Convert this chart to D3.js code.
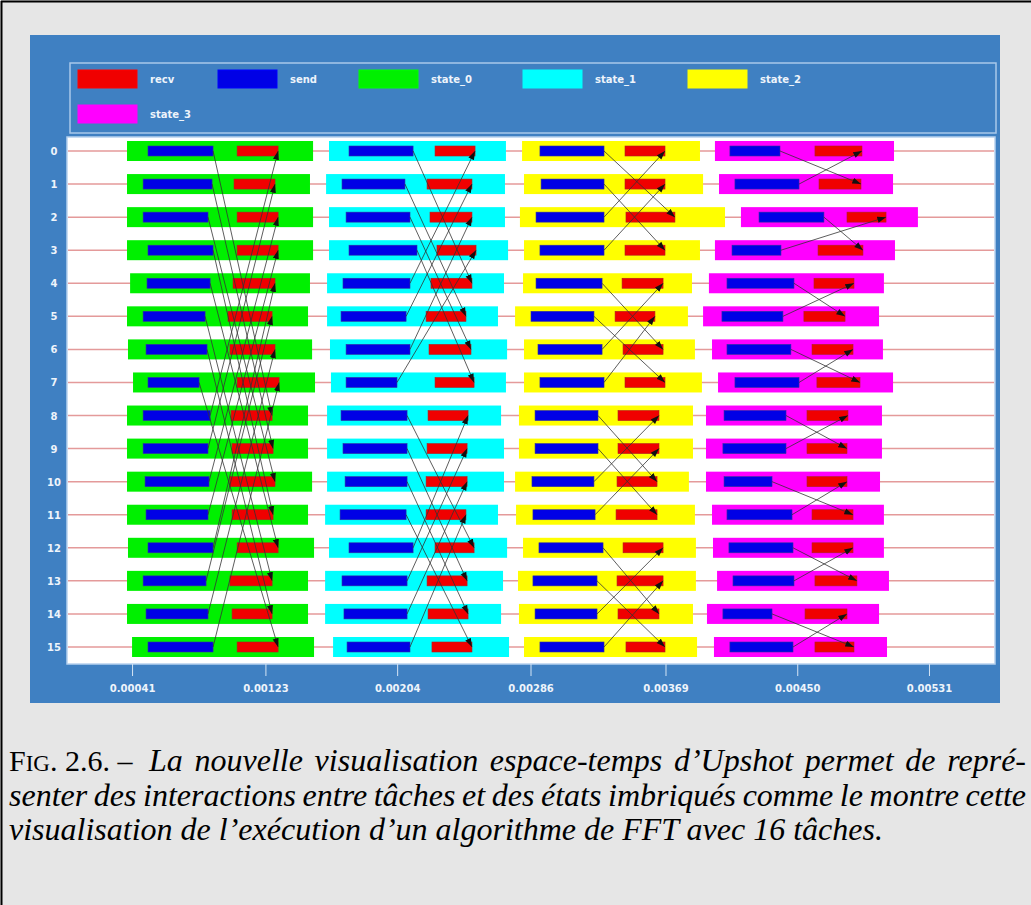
<!DOCTYPE html>
<html><head><meta charset="utf-8">
<script src="https://cdn.jsdelivr.net/npm/d3@7"></script>
<style>body{margin:0;background:#e6e6e6;overflow:hidden}svg{display:block}</style>
</head><body>
<svg id="c" width="1031" height="905"></svg>
<script>
// ---------- data (times in microseconds) ----------
const tasks = [0,1,2,3,4,5,6,7,8,9,10,11,12,13,14,15];
const legendLabels = ["recv","send","state_0","state_1","state_2","state_3"];
const tickValues = [410,1230,2040,2860,3690,4500,5310];
const tickLabels = ["0.00041","0.00123","0.00204","0.00286","0.00369","0.00450","0.00531"];
const xDomain = [10,5716];

const state0Start = [379,379,379,379,398,379,385,416,379,379,379,379,385,379,379,410];
const state0End   = [1523,1504,1523,1523,1504,1492,1517,1535,1492,1492,1517,1492,1529,1492,1492,1529];
const send0Start  = [508,478,478,508,502,478,496,508,478,478,490,496,508,478,496,508];
const send0End    = [908,902,877,908,890,859,871,822,890,877,883,877,908,865,877,908];
const recv0Start  = [1056,1037,1056,1056,1031,1000,1012,1056,1019,1025,1012,1025,1056,1012,1025,1056];
const recv0End    = [1308,1289,1308,1308,1289,1271,1289,1314,1271,1277,1289,1277,1308,1271,1271,1308];

const state1Start = [1621,1603,1621,1621,1609,1609,1627,1633,1609,1609,1609,1597,1621,1597,1597,1646];
const state1End   = [2709,2703,2703,2722,2697,2660,2716,2709,2679,2697,2697,2660,2716,2691,2679,2728];
const send1Start  = [1744,1701,1726,1744,1707,1695,1726,1726,1695,1707,1720,1689,1744,1701,1713,1732];
const send1End    = [2138,2088,2119,2162,2119,2095,2119,2039,2101,2101,2101,2095,2138,2101,2101,2119];
const recv1Start  = [2273,2224,2242,2285,2248,2218,2236,2273,2230,2224,2218,2218,2273,2224,2230,2254];
const recv1End    = [2519,2500,2500,2525,2500,2463,2494,2513,2476,2470,2470,2463,2513,2470,2476,2500];

const state2Start = [2808,2820,2795,2820,2814,2765,2820,2820,2789,2789,2765,2771,2814,2783,2789,2820];
const state2End   = [3902,3921,4056,3902,3853,3828,3871,3914,3859,3859,3834,3871,3877,3877,3859,3884];
const send2Start  = [2918,2925,2894,2918,2894,2863,2906,2918,2888,2888,2869,2875,2912,2875,2888,2918];
const send2End    = [3312,3312,3312,3312,3300,3250,3300,3312,3275,3275,3250,3257,3306,3269,3269,3312];
const recv2Start  = [3441,3441,3447,3441,3423,3380,3429,3441,3398,3398,3392,3386,3429,3392,3398,3447];
const recv2End    = [3687,3687,3748,3687,3675,3625,3675,3687,3650,3650,3638,3638,3675,3675,3650,3687];

const state3Start = [3994,4019,4154,3994,3957,3921,3976,4013,3939,3939,3939,3976,3982,4007,3945,3988];
const state3End   = [5095,5089,5242,5101,5033,5003,5027,5089,5021,5021,5009,5033,5033,5064,5003,5052];
const send3Start  = [4086,4117,4265,4099,4068,4037,4068,4117,4050,4043,4050,4068,4080,4105,4043,4086];
const send3End    = [4394,4511,4664,4400,4480,4412,4461,4511,4431,4431,4345,4468,4474,4480,4345,4474];
const recv3Start  = [4609,4634,4806,4628,4603,4541,4591,4621,4560,4560,4560,4591,4591,4609,4548,4609];
const recv3End    = [4898,4892,5046,4904,4849,4794,4843,4886,4812,4806,4806,4843,4843,4867,4806,4849];

const captionLine1 = "La nouvelle visualisation espace-temps d’Upshot permet de repré-";
const captionLine2 = "senter des interactions entre tâches et des états imbriqués comme le montre cette";
const captionLine3 = "visualisation de l’exécution d’un algorithme de FFT avec 16 tâches.";

// ---------- tables built from the arrays ----------
const stageArrays = [
  [state0Start,state0End,send0Start,send0End,recv0Start,recv0End],
  [state1Start,state1End,send1Start,send1End,recv1Start,recv1End],
  [state2Start,state2End,send2Start,send2End,recv2Start,recv2End],
  [state3Start,state3End,send3Start,send3End,recv3Start,recv3End]
];
const colors = {recv:"#f00000", send:"#0000e6", state_0:"#00f000", state_1:"#00ffff", state_2:"#ffff00", state_3:"#ff00ff"};
const states=[], sends=[], recvs=[], msgs=[];
stageArrays.forEach((a,s)=>{
  tasks.forEach(i=>{
    states.push({stage:s,task:i,start:a[0][i],end:a[1][i]});
    sends.push({stage:s,task:i,start:a[2][i],end:a[3][i]});
    recvs.push({stage:s,task:i,start:a[4][i],end:a[5][i]});
    const p = i ^ (8>>s);
    msgs.push({from:i,to:p,t0:a[3][i],t1:a[5][p]});
  });
});

// ---------- drawing ----------
const svg = d3.select("#c");
const W=1031,H=905;
svg.append("rect").attr("width",W).attr("height",H).attr("fill","#e6e6e6");
svg.append("line").attr("x1",1.5).attr("x2",1.5).attr("y1",1).attr("y2",H).attr("stroke","#000").attr("stroke-width",2);
svg.append("line").attr("x1",1).attr("x2",W).attr("y1",1.5).attr("y2",1.5).attr("stroke","#000").attr("stroke-width",2);

// blue panel
const panel = {x:30,y:35,w:970,h:668};
svg.append("rect").attr("x",panel.x).attr("y",panel.y).attr("width",panel.w).attr("height",panel.h).attr("fill","#3f80c2");

const plot = {x0:67,x1:995,y0:137,y1:664};
const x = d3.scaleLinear().domain(xDomain).range([plot.x0,plot.x1]);
const y = d3.scalePoint().domain(tasks).range([151,647]);

const labelFont = {family:"DejaVu Sans", size:10, fill:"#eef4fb", weight:"bold"};

// legend
const lg = svg.append("g");
lg.append("rect").attr("x",70).attr("y",63).attr("width",926).attr("height",70)
  .attr("fill","none").attr("stroke","#a9c8ea").attr("stroke-width",1.5);
const legX = [78,218,359,523,688,78], legY=[70,70,70,70,70,105];
legendLabels.forEach((l,k)=>{
  lg.append("rect").attr("x",legX[k]).attr("y",legY[k]).attr("width",59).attr("height",18)
    .attr("fill",colors[l]).attr("stroke",d3.color(colors[l]).brighter(0.6)).attr("stroke-width",1);
  lg.append("text").attr("x",legX[k]+72).attr("y",legY[k]+13).text(l)
    .attr("fill",labelFont.fill).attr("font-family",labelFont.family).attr("font-size",labelFont.size)
    .attr("font-weight",labelFont.weight);
});

// plot background
svg.append("rect").attr("x",plot.x0).attr("y",plot.y0).attr("width",plot.x1-plot.x0).attr("height",plot.y1-plot.y0)
  .attr("fill","#ffffff").attr("stroke","#b7d1ee").attr("stroke-width",1.5);

// row lines
svg.append("g").selectAll("line").data(tasks).join("line")
  .attr("x1",plot.x0+1).attr("x2",plot.x1-1).attr("y1",d=>y(d)).attr("y2",d=>y(d))
  .attr("stroke","#e49a9a").attr("stroke-width",1.5);

// row labels
svg.append("g").selectAll("text").data(tasks).join("text")
  .attr("x",54).attr("y",d=>y(d)+4).attr("text-anchor","middle").text(d=>d)
  .attr("fill",labelFont.fill).attr("font-family",labelFont.family).attr("font-size",labelFont.size)
  .attr("font-weight",labelFont.weight);

// state boxes
svg.append("g").selectAll("rect").data(states).join("rect")
  .attr("x",d=>x(d.start)).attr("width",d=>x(d.end)-x(d.start))
  .attr("y",d=>y(d.task)-10).attr("height",20)
  .attr("fill",d=>colors["state_"+d.stage]);
// send bars
svg.append("g").selectAll("rect").data(sends).join("rect")
  .attr("x",d=>x(d.start)).attr("width",d=>x(d.end)-x(d.start))
  .attr("y",d=>y(d.task)-5).attr("height",10)
  .attr("fill",colors.send).attr("stroke","#3030a0").attr("stroke-width",0.6);
// recv bars
svg.append("g").selectAll("rect").data(recvs).join("rect")
  .attr("x",d=>x(d.start)).attr("width",d=>x(d.end)-x(d.start))
  .attr("y",d=>y(d.task)-5).attr("height",10)
  .attr("fill",colors.recv).attr("stroke","#b02020").attr("stroke-width",0.6);

// arrows
svg.append("defs").append("marker").attr("id","ah").attr("viewBox","0 -4 10 8")
  .attr("refX",10).attr("refY",0).attr("markerWidth",9).attr("markerHeight",7)
  .attr("markerUnits","userSpaceOnUse").attr("orient","auto")
  .append("path").attr("d","M0,-3.5L10,0L0,3.5Z").attr("fill","#111");
svg.append("g").selectAll("line").data(msgs).join("line")
  .attr("x1",d=>x(d.t0)).attr("y1",d=>y(d.from))
  .attr("x2",d=>x(d.t1)).attr("y2",d=>y(d.to))
  .attr("stroke","#333").attr("stroke-width",0.8).attr("marker-end","url(#ah)");

// x axis
const ax = svg.append("g").attr("transform",`translate(0,${plot.y1})`)
  .call(d3.axisBottom(x).tickValues(tickValues).tickFormat((d,i)=>tickLabels[i]).tickSize(12).tickPadding(9));
ax.select(".domain").remove();
ax.selectAll(".tick line").attr("stroke","#d5e4f4").attr("stroke-width",1);
ax.selectAll(".tick text").attr("fill",labelFont.fill).attr("font-family",labelFont.family)
  .attr("font-size",labelFont.size).attr("font-weight",labelFont.weight);

// caption
const capSize = 32, rightEdge = 1026;
const cap = svg.append("g").attr("font-family","Liberation Serif").attr("font-size",capSize).attr("fill","#000");
const t1 = cap.append("text").attr("x",9).attr("y",771);
t1.append("tspan").attr("font-size",30).text("F");
t1.append("tspan").attr("font-size",23).text("IG");
t1.append("tspan").attr("font-size",30).text(". 2.6. – ");
const it1 = t1.append("tspan").attr("x",149).attr("font-style","italic").text(captionLine1);
const t2 = cap.append("text").attr("x",9).attr("y",806).attr("font-style","italic").text(captionLine2);
cap.append("text").attr("x",9).attr("y",840).attr("font-style","italic").text(captionLine3);
// justify the first two lines to the right margin, like the typeset original
function justify(sel, str){
  const n = sel.node();
  const len = n.getComputedTextLength();
  const startX = +sel.attr("x");
  const spaces = (str.match(/ /g)||[]).length;
  const extra = (rightEdge - (startX + len)) / spaces;
  sel.attr("word-spacing", extra);
}
justify(it1, captionLine1);
justify(t2, captionLine2);
</script>
</body></html>
